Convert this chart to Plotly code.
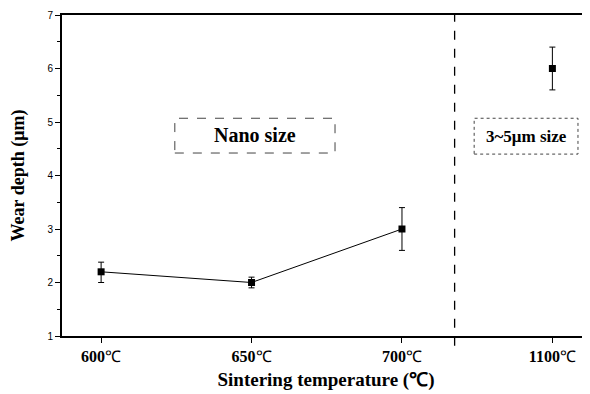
import plotly.graph_objects as go

categories = ["600℃", "650℃", "700℃", "1100℃"]
positions = [0, 1, 2, 3]
wear_depth = [2.2, 2.0, 3.0, 6.0]
err_plus = [0.18, 0.1, 0.4, 0.4]
err_minus = [0.2, 0.1, 0.4, 0.4]
divider_x = 2.35

serif = "Liberation Serif"

fig = go.Figure()
# connecting line for the nano-size group
fig.add_trace(go.Scatter(
    x=positions[:3], y=wear_depth[:3], mode="lines",
    line=dict(color="black", width=1), showlegend=False, hoverinfo="skip"))
fig.add_trace(go.Scatter(
    x=positions, y=wear_depth, mode="markers",
    marker=dict(symbol="square", size=7, color="black"),
    error_y=dict(type="data", symmetric=False, array=err_plus, arrayminus=err_minus,
                 color="black", thickness=1, width=3),
    showlegend=False))

# divider
fig.add_shape(type="line", xref="x", yref="paper", x0=divider_x, x1=divider_x,
              y0=-0.03, y1=1, line=dict(color="black", width=1.3, dash="dash"))

# label boxes
fig.add_shape(type="rect", xref="x", yref="y", x0=0.49, x1=1.555, y0=4.42, y1=5.07,
              line=dict(color="#444", width=1, dash="dash"))
fig.add_shape(type="rect", xref="x", yref="y", x0=2.48, x1=3.17, y0=4.4, y1=5.07,
              line=dict(color="#444", width=1, dash="dot"))
fig.add_annotation(x=1.02, y=4.75, xref="x", yref="y", text="<b>Nano size</b>",
                   showarrow=False, font=dict(family=serif, size=20, color="black"))
fig.add_annotation(x=2.825, y=4.73, xref="x", yref="y", text="<b>3~5μm size</b>",
                   showarrow=False, font=dict(family=serif, size=17, color="black"))

fig.update_layout(
    width=582, height=386,
    margin=dict(l=54, r=0, t=7, b=58),
    paper_bgcolor="white", plot_bgcolor="white",
    xaxis=dict(
        range=[-0.26, 3.25], tickmode="array", tickvals=positions,
        ticktext=["<b>" + c[:-1] + "</b>" + c[-1] for c in categories],
        showline=True, linecolor="black", linewidth=2, mirror=True, automargin=False,
        ticks="outside", ticklen=5, tickcolor="black", showgrid=False, zeroline=False,
        tickfont=dict(family=serif, size=16, color="black"),
        title=dict(text="<b>Sintering temperature (℃)</b>", standoff=8,
                   font=dict(family=serif, size=19, color="black"))),
    yaxis=dict(
        range=[1, 7], tickvals=[1, 2, 3, 4, 5, 6, 7], automargin=False,
        showline=True, linecolor="black", linewidth=2,
        ticks="outside", ticklen=5, tickcolor="black", showgrid=False, zeroline=False,
        minor=dict(dtick=0.5, ticks="outside", ticklen=3, tickcolor="black"),
        tickfont=dict(family="Liberation Sans", size=10, color="black"),
        title=dict(text="<b>Wear depth (μm)</b>", standoff=24,
                   font=dict(family=serif, size=18, color="black"))),
)

fig.write_html("out.html")
